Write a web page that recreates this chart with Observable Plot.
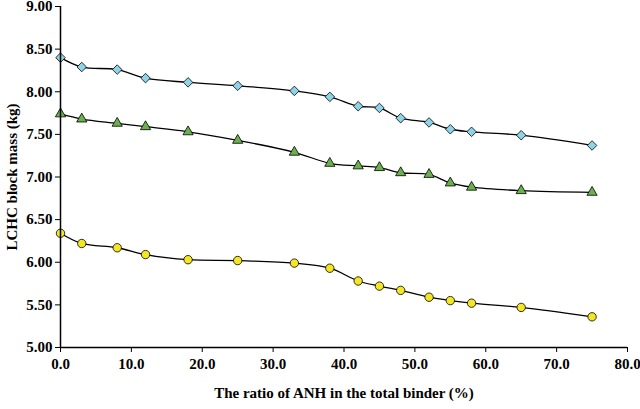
<!DOCTYPE html><html><head><meta charset="utf-8">
<script src="https://cdn.jsdelivr.net/npm/d3@7"></script>
<script src="https://cdn.jsdelivr.net/npm/@observablehq/plot@0.6"></script>
<style>body{margin:0;background:#fff;font-family:"Liberation Serif",serif;}</style></head><body><div id="c"></div>
<script>
const ratio=[0,3,8,12,18,25,33,38,42,45,48,52,55,58,65,75];
const blockA=[8.40,8.29,8.26,8.16,8.11,8.07,8.01,7.94,7.83,7.81,7.69,7.64,7.56,7.53,7.49,7.37];
const blockB=[7.74,7.68,7.63,7.59,7.53,7.43,7.29,7.16,7.13,7.11,7.05,7.03,6.93,6.88,6.84,6.82];
const blockC=[6.34,6.22,6.17,6.09,6.03,6.02,5.99,5.93,5.78,5.72,5.67,5.59,5.55,5.52,5.47,5.36];
const yTicks=[5,5.5,6,6.5,7,7.5,8,8.5,9];
const xTicks=[0,10,20,30,40,50,60,70,80];
const series=[{v:blockA,sym:"diamond2",fill:"#8fd3e8",r:4.3},{v:blockB,sym:"triangle",fill:"#6ab04c",r:3.8},{v:blockC,sym:"circle",fill:"#f5e625",r:4.2}];
const marks=[];
for(const s of series){
  const d=ratio.map((x,i)=>({x,y:s.v[i]}));
  marks.push(Plot.line(d,{x:"x",y:"y",curve:"catmull-rom",stroke:"black",strokeWidth:1.3}));
  marks.push(Plot.dot(d,{x:"x",y:"y",symbol:()=>s.sym,fill:s.fill,stroke:"black",strokeWidth:0.8,r:s.r}));
}
marks.push(Plot.ruleX([0],{stroke:"black",strokeWidth:1.5}));
marks.push(Plot.ruleY([5],{stroke:"black",strokeWidth:1.5}));
const p=Plot.plot({width:640,height:409,marginLeft:60,marginRight:13,marginTop:6,marginBottom:62,
 style:{fontFamily:"Liberation Serif",fontWeight:"bold",fontSize:"15px",color:"black"},
 x:{domain:[0,80],ticks:xTicks,tickFormat:d3.format(".1f"),label:"The ratio of ANH in the total binder (%)",labelArrow:false,labelAnchor:"center",labelOffset:50,tickSize:5,tickPadding:6},
 y:{domain:[5,9],ticks:yTicks,tickFormat:d3.format(".2f"),label:"LCHC block mass (kg)",labelArrow:false,labelAnchor:"center",labelOffset:54,tickSize:5,tickPadding:3},
 symbol:{type:"identity"},
 marks});
document.getElementById("c").append(p);
</script></body></html>
